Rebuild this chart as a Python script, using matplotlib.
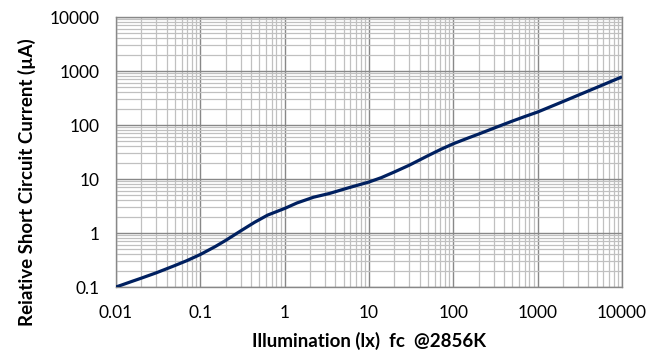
import matplotlib
matplotlib.use("Agg")
import matplotlib.pyplot as plt
from matplotlib.ticker import LogLocator, NullFormatter, FixedLocator

# Data
illumination = [0.01, 0.015, 0.02, 0.03, 0.05, 0.07, 0.1, 0.15, 0.2, 0.3,
                0.44, 0.63, 1, 1.4, 2.2, 3.4, 5.4, 10, 14, 20, 30, 50, 70,
                100, 150, 200, 300, 500, 700, 1000, 2000, 5000, 10000]
current = [0.1, 0.125, 0.146, 0.183, 0.25, 0.31, 0.40, 0.56, 0.73, 1.09,
           1.58, 2.15, 2.85, 3.6, 4.6, 5.4, 6.7, 8.8, 10.6, 13.5, 18, 27, 35,
           45, 57.5, 68, 87, 118, 143, 174, 272, 495, 780]

x_ticks = [0.01, 0.1, 1, 10, 100, 1000, 10000]
x_tick_labels = ["0.01", "0.1", "1", "10", "100", "1000", "10000"]
y_ticks = [0.1, 1, 10, 100, 1000, 10000]
y_tick_labels = ["0.1", "1", "10", "100", "1000", "10000"]

plt.rcParams['font.family'] = ['Lato', 'DejaVu Sans']

fig = plt.figure(figsize=(6.66, 3.6), dpi=100)
ax = fig.add_axes([116/666, 1 - 287/360, (622-116)/666, (287-17)/360])

ax.plot(illumination, current, color="#002060", linewidth=2.3,
        solid_capstyle="butt", solid_joinstyle="round", zorder=3)

ax.set_xscale("log")
ax.set_yscale("log")
ax.set_xlim(0.01, 10000)
ax.set_ylim(0.1, 10000)

ax.xaxis.set_major_locator(FixedLocator(x_ticks))
ax.set_xticklabels(x_tick_labels)
ax.yaxis.set_major_locator(FixedLocator(y_ticks))
ax.set_yticklabels(y_tick_labels)
ax.xaxis.set_minor_locator(LogLocator(base=10, subs=range(2, 10), numticks=20))
ax.yaxis.set_minor_locator(LogLocator(base=10, subs=range(2, 10), numticks=20))
ax.xaxis.set_minor_formatter(NullFormatter())
ax.yaxis.set_minor_formatter(NullFormatter())

ax.grid(which="minor", color="#c0c0c0", linewidth=0.9, zorder=1)
ax.grid(which="major", color="#888888", linewidth=1.0, zorder=2)
ax.set_axisbelow(True)

ax.tick_params(which="both", length=0, labelsize=12.5, colors="#000000")
ax.tick_params(axis="x", pad=13)
ax.tick_params(axis="y", pad=12)

for s in ax.spines.values():
    s.set_color("#888888")
    s.set_linewidth(1.0)

ax.set_xlabel("Illumination (lx)  fc  @2856K", fontsize=13.5, fontweight="bold",
              labelpad=8)
ax.set_ylabel("Reiative Short Circuit Current (µA)", fontsize=13.5,
              fontweight="bold", labelpad=9)
ax.yaxis.set_label_coords(-0.158, 0.39)

fig.savefig("out.png", dpi=100)
